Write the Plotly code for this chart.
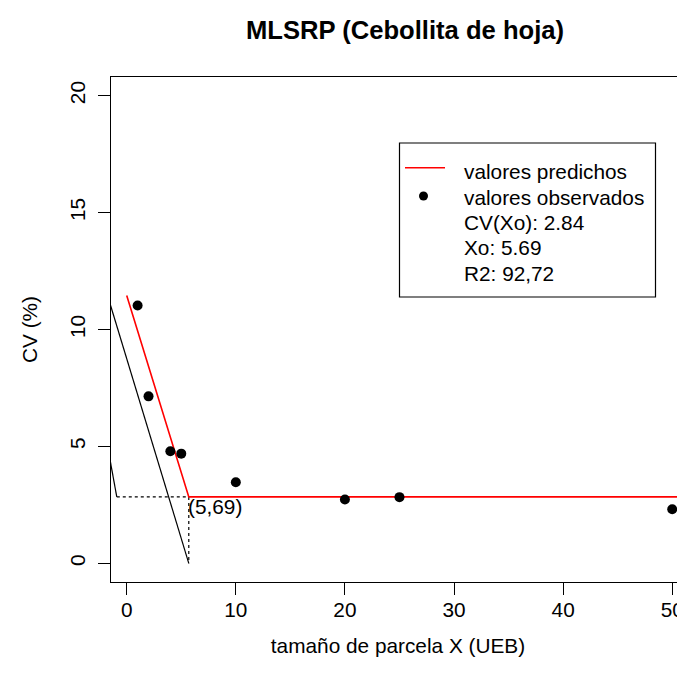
import plotly.graph_objects as go

# ---- data ----
obs_x = [1, 2, 4, 5, 10, 20, 25, 50]
obs_y = [11.03, 7.14, 4.79, 4.69, 3.47, 2.73, 2.83, 2.31]

xo = 5.69
cv_xo = 2.84
pred_x = [0, xo, 53]
pred_y = [11.45, cv_xo, cv_xo]

black_x = [-3, xo]
black_y = [13.37, 0.0]

left_seg_x = [-2, -0.91]
left_seg_y = [5.64, cv_xo]

hdot_x = [-0.91, xo]
hdot_y = [cv_xo, cv_xo]
vdot_x = [xo, xo]
vdot_y = [cv_xo, 0]

x_ticks = [0, 10, 20, 30, 40, 50]
y_ticks = [0, 5, 10, 15, 20]

title_text = "<b>MLSRP (Cebollita de hoja)</b>"
x_title = "tamaño de parcela X (UEB)"
y_title = "CV (%)"
legend_lines = ["valores predichos", "valores observados",
                "CV(Xo): 2.84", "Xo: 5.69", "R2: 92,72"]
point_label = "(5,69)"

FONT = "Liberation Sans, Arial, sans-serif"
FS = 20.8
OFF = 8  # page body margin of the default html
W, H = 685 - OFF, 684 - 2 * OFF
L, T = 111 - OFF, 77 - OFF
B = H - (582 - OFF)
R = 0
PW = W - L - R
PH = H - T - B


def px(x):
    return (x - OFF - L) / PW


def py(y):
    return (H - B - (y - OFF)) / PH


fig = go.Figure()

fig.add_trace(go.Scatter(x=black_x, y=black_y, mode="lines",
                         line=dict(color="black", width=1.2), showlegend=False))
fig.add_trace(go.Scatter(x=left_seg_x, y=left_seg_y, mode="lines",
                         line=dict(color="black", width=1.2), showlegend=False))
fig.add_trace(go.Scatter(x=hdot_x, y=hdot_y, mode="lines",
                         line=dict(color="black", width=1.2, dash="dot"), showlegend=False))
fig.add_trace(go.Scatter(x=vdot_x, y=vdot_y, mode="lines",
                         line=dict(color="black", width=1.2, dash="dot"), showlegend=False))
fig.add_trace(go.Scatter(x=pred_x, y=pred_y, mode="lines",
                         line=dict(color="#ff0000", width=1.6), showlegend=False))
fig.add_trace(go.Scatter(x=obs_x, y=obs_y, mode="markers",
                         marker=dict(color="black", size=10), showlegend=False,
                         cliponaxis=False))

annotations = []
annotations.append(dict(x=xo, y=cv_xo, xref="x", yref="y", text=point_label,
                        showarrow=False, xanchor="left", yanchor="top",
                        xshift=-3, yshift=4,
                        font=dict(family=FONT, size=FS, color="black")))

legend_y = [172, 197, 222.5, 248, 273.5]
for txt, yy in zip(legend_lines, legend_y):
    annotations.append(dict(x=px(462), y=py(yy), xref="paper", yref="paper",
                            text=txt, showarrow=False, xanchor="left",
                            yanchor="middle",
                            font=dict(family=FONT, size=FS, color="black")))

shapes = [
    dict(type="rect", xref="paper", yref="paper",
         x0=px(399.5), x1=px(655.5), y0=py(297), y1=py(143),
         line=dict(color="black", width=1.2)),
    dict(type="line", xref="paper", yref="paper",
         x0=px(405), x1=px(445), y0=py(167.7), y1=py(167.7),
         line=dict(color="#ff0000", width=1.6)),
    dict(type="circle", xref="paper", yref="paper",
         x0=px(419), x1=px(428), y0=py(200.5), y1=py(191.5),
         fillcolor="black", line=dict(color="black", width=0)),
]

fig.update_layout(
    width=W, height=H,
    margin=dict(l=L, r=R, t=T, b=B, pad=0, autoexpand=False),
    paper_bgcolor="white", plot_bgcolor="white",
    font=dict(family=FONT, size=FS, color="black"),
    title=dict(text=title_text, x=(405 - OFF) / W, xref="container", xanchor="center",
               y=1 - (30 - OFF) / H, yref="container", yanchor="middle",
               font=dict(family=FONT, size=25.6, color="black")),
    xaxis=dict(range=[-1.44, 51.17], tickvals=x_ticks,
               ticktext=[str(v) for v in x_ticks],
               showgrid=False, zeroline=False, automargin=False,
               showline=True, linecolor="black", linewidth=1.2, mirror=True,
               ticks="outside", ticklen=12, tickwidth=1.2, tickcolor="black",
               ticklabelstandoff=-3,
               tickfont=dict(family=FONT, size=FS, color="black"),
               title=dict(text=x_title, standoff=18,
                          font=dict(family=FONT, size=FS, color="black"))),
    yaxis=dict(range=[-0.8, 20.8], tickvals=y_ticks,
               ticktext=[str(v) for v in y_ticks],
               showgrid=False, zeroline=False, automargin=False,
               showline=True, linecolor="black", linewidth=1.2, mirror=False,
               ticks="outside", ticklen=12, tickwidth=1.2, tickcolor="black",
               tickangle=-90, ticklabelstandoff=5,
               tickfont=dict(family=FONT, size=FS, color="black"),
               title=dict(text=y_title, standoff=22,
                          font=dict(family=FONT, size=FS, color="black"))),
    annotations=annotations,
    shapes=shapes,
)

fig.write_html("out.html")
